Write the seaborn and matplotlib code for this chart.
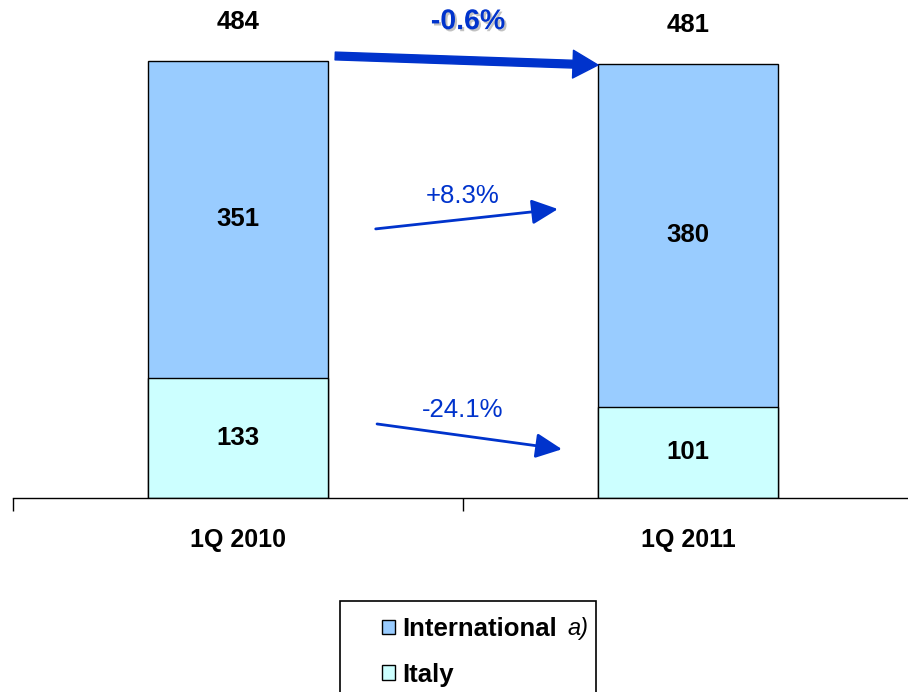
import matplotlib
matplotlib.use("Agg")
import matplotlib.pyplot as plt
import seaborn as sns
import pandas as pd
from matplotlib.patches import Patch, Rectangle
import matplotlib.patheffects as pe

categories = ["1Q 2010", "1Q 2011"]
international = [351, 380]
italy = [133, 101]
totals = [a + b for a, b in zip(international, italy)]
change_labels = ["-0.6%", "+8.3%", "-24.1%"]
series_names = ["International", "Italy"]

C_INT = "#99CCFF"
C_ITA = "#CCFFFF"
BLUE = "#0033CC"

sns.set_style("white")
plt.rcParams["font.family"] = ["Liberation Sans", "DejaVu Sans"]
plt.rcParams["text.color"] = "black"
plt.rcParams["xtick.color"] = "black"
plt.rcParams["xtick.labelcolor"] = "black"

W, H = 908, 692
fig = plt.figure(figsize=(W / 100, H / 100), dpi=100)
ax = fig.add_axes([13 / W, 1 - 498 / H, 900 / W, 498 / H])

df = pd.DataFrame({"cat": categories, "total": totals, "italy": italy, "intl": international})
sns.barplot(data=df, x="cat", y="total", color=C_INT, width=0.4, edgecolor="black",
            linewidth=1, saturation=1, ax=ax)
sns.barplot(data=df, x="cat", y="italy", color=C_ITA, width=0.4, edgecolor="black",
            linewidth=1, saturation=1, ax=ax)

ax.set_xlim(-0.5, 1.5)
ax.set_ylim(0, 498 / 0.903)
ax.set_xlabel("")
ax.set_ylabel("")
ax.set_yticks([])
for s in ["left", "right", "top"]:
    ax.spines[s].set_visible(False)
ax.spines["bottom"].set_color("black")
ax.spines["bottom"].set_linewidth(1)
ax.set_xticks([0, 1])
ax.set_xticklabels(categories, fontsize=18, fontweight="bold", color="black")
ax.tick_params(axis="x", which="major", length=0, pad=21.5)
ax.set_xticks([-0.5, 0.5, 1.5], minor=True)
ax.tick_params(axis="x", which="minor", length=9, width=1, color="black", direction="out", bottom=True)

NUM = 18.5
for i in range(len(categories)):
    ax.text(i, italy[i] / 2, f"{italy[i]}", ha="center", va="center", fontsize=NUM, fontweight="bold", color="black")
    ax.text(i, italy[i] + international[i] / 2, f"{international[i]}", ha="center", va="center",
            fontsize=NUM, fontweight="bold", color="black")
    ax.text(i, totals[i] + 43, f"{totals[i]}", ha="center", va="center", fontsize=NUM, fontweight="bold", color="black")

# total change arrow
ax.annotate("", xy=(0.80, 479.5), xytext=(0.216, 489.5),
            arrowprops=dict(arrowstyle="simple,head_length=0.9,head_width=1.0,tail_width=0.28",
                            mutation_scale=20, color=BLUE, shrinkA=0, shrinkB=0))
ax.text(0.511, 527, change_labels[0], ha="center", va="center", fontsize=20.5, fontweight="bold",
        color=BLUE, path_effects=[pe.SimplePatchShadow(offset=(1.5, -1.5), shadow_rgbFace="#999999", alpha=0.6),
                                  pe.Normal()])

# segment arrows
ax.annotate("", xy=(0.711, 320), xytext=(0.306, 298),
            arrowprops=dict(arrowstyle="-|>,head_length=0.8,head_width=0.38", mutation_scale=20,
                            color=BLUE, lw=2, shrinkA=0, shrinkB=0))
ax.text(0.5, 334, change_labels[1], ha="center", va="center", fontsize=18.5, color=BLUE)
ax.annotate("", xy=(0.720, 54), xytext=(0.309, 82),
            arrowprops=dict(arrowstyle="-|>,head_length=0.8,head_width=0.38", mutation_scale=20,
                            color=BLUE, lw=2, shrinkA=0, shrinkB=0))
ax.text(0.5, 97, change_labels[2], ha="center", va="center", fontsize=18.5, color=BLUE)

# legend
handles = [Patch(facecolor=C_INT, edgecolor="black", linewidth=1, label=series_names[0]),
           Patch(facecolor=C_ITA, edgecolor="black", linewidth=1, label=series_names[1])]
leg = fig.legend(handles=handles, loc="upper left", bbox_to_anchor=(382 / W, 1 - 617 / H),
                 frameon=False, prop=dict(size=18.5, weight="bold"), handlelength=0.5, handleheight=0.5,
                 handletextpad=0.3, labelspacing=0.85, borderpad=0, borderaxespad=0)
for t in leg.get_texts():
    t.set_color("black")
fig.patches.append(Rectangle((340 / W, -10 / H), 256 / W, (1 - 601 / H) + 10 / H,
                             transform=fig.transFigure, fill=False, edgecolor="black", linewidth=1.2))
fig.text(567 / W, 1 - 628 / H, "a)", fontsize=17, style="italic", va="center", ha="left", color="black")

fig.savefig("out.png", dpi=100)
